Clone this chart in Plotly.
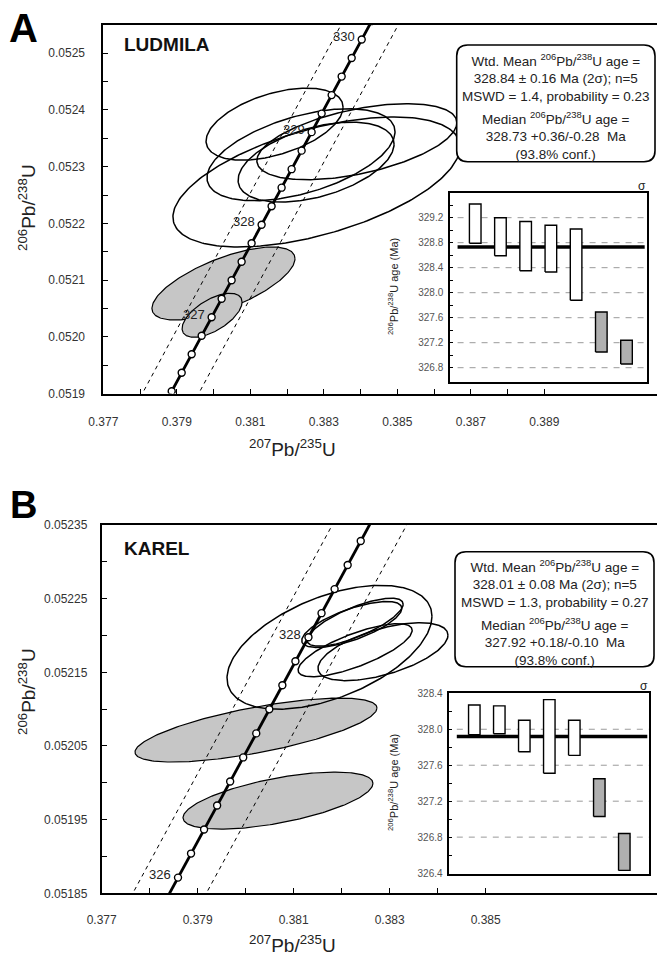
import numpy as np
import plotly.graph_objects as go

W, H = 657, 956
FONT = "Liberation Sans, Arial, Helvetica, sans-serif"

# ---------------- decay constants (per Ma) and 2-sigma relative errors ----------------
L238 = 1.55125e-4
L235 = 9.8485e-4
REL238_2S = 0.00107
REL235_2S = 0.00136

# ---------------- Panel A : LUDMILA ----------------
lud_x207 = [0.38166, 0.38238, 0.38279, 0.38390, 0.38280, 0.38027, 0.37996]
lud_y206 = [0.052375, 0.052321, 0.052308, 0.052344, 0.052273, 0.052094, 0.052038]
lud_sx = [0.001864, 0.002558, 0.002122, 0.002721, 0.003905, 0.001946, 0.000816]
lud_sy = [0.0000635, 0.0000811, 0.0000705, 0.0000670, 0.0001146, 0.0000644, 0.0000388]
lud_rho = [0.47, 0.50, 0.45, 0.50, 0.54, 0.68, 0.60]
lud_excluded = [False, False, False, False, False, True, True]

lud_age_hi = [329.42, 329.20, 329.14, 329.08, 329.02, 327.69, 327.24]
lud_age_lo = [328.79, 328.59, 328.35, 328.33, 327.88, 327.05, 326.86]
lud_median = 328.73

lud_xtick_labels = ["0.377", "0.379", "0.381", "0.383", "0.385", "0.387", "0.389"]
lud_ytick_labels = ["0.0519", "0.0520", "0.0521", "0.0522", "0.0523", "0.0524", "0.0525"]
lud_inset_ticks = ["326.8", "327.2", "327.6", "328.0", "328.4", "328.8", "329.2", "329.6"]
lud_conc_labels = [327, 328, 329, 330]

lud_box1 = "Wtd. Mean <sup>206</sup>Pb/<sup>238</sup>U age =<br>328.84 ± 0.16 Ma (2σ); n=5<br>MSWD = 1.4, probability = 0.23"
lud_box2 = "Median <sup>206</sup>Pb/<sup>238</sup>U age =<br>328.73 +0.36/-0.28\u00a0\u00a0Ma<br>(93.8% conf.)"

# ---------------- Panel B : KAREL ----------------
kar_x207 = [0.38221, 0.38228, 0.38228, 0.381746, 0.38286, 0.380215, 0.380673]
kar_y206 = [0.052215, 0.052218, 0.052180, 0.052184, 0.052178, 0.0520716, 0.0519759]
kar_sx = [0.001042, 0.001000, 0.001188, 0.002135, 0.001354, 0.002521, 0.001979]
kar_sy = [0.0000312, 0.0000326, 0.0000360, 0.0000841, 0.0000393, 0.0000434, 0.0000387]
kar_rho = [0.70, 0.75, 0.75, 0.50, 0.57, 0.69, 0.60]
kar_excluded = [False, False, False, False, False, True, True]

kar_age_hi = [328.27, 328.26, 328.10, 328.33, 328.10, 327.45, 326.84]
kar_age_lo = [327.94, 327.95, 327.75, 327.51, 327.71, 327.03, 326.43]
kar_median = 327.92

kar_xtick_labels = ["0.377", "0.379", "0.381", "0.383", "0.385"]
kar_ytick_labels = ["0.05185", "0.05195", "0.05205", "0.05215", "0.05225", "0.05235"]
kar_inset_ticks = ["326.4", "326.8", "327.2", "327.6", "328.0", "328.4"]
kar_conc_labels = [326, 328]

kar_box1 = "Wtd. Mean <sup>206</sup>Pb/<sup>238</sup>U age =<br>328.01 ± 0.08 Ma (2σ); n=5<br>MSWD = 1.3, probability = 0.27"
kar_box2 = "Median <sup>206</sup>Pb/<sup>238</sup>U age =<br>327.92 +0.18/-0.10\u00a0\u00a0Ma<br>(93.8% conf.)"


# ---------------- helpers ----------------
def PX(px):
    return px / W


def PY(py):
    return 1 - py / H


def ratios(t):
    return np.exp(L235 * t) - 1, np.exp(L238 * t) - 1


def ellipse(cx, cy, a, b, rho, n=240):
    th = np.linspace(0, 2 * np.pi, n)
    x = cx + a * np.cos(th)
    y = cy + b * (rho * np.cos(th) + np.sqrt(1 - rho ** 2) * np.sin(th))
    return x, y


fig = go.Figure()


def add_panel(xa, ya, xs, ys, sxs, sys_, rhos, excl, t_lo, t_hi):
    for i in range(len(xs)):
        if excl[i]:
            ex, ey = ellipse(xs[i], ys[i], sxs[i], sys_[i], rhos[i])
            fig.add_trace(go.Scatter(x=ex, y=ey, mode="lines", fill="toself",
                                     fillcolor="#c6c6c6", line=dict(color="black", width=1.2),
                                     xaxis=xa, yaxis=ya, hoverinfo="skip"))
    for i in range(len(xs)):
        if not excl[i]:
            ex, ey = ellipse(xs[i], ys[i], sxs[i], sys_[i], rhos[i])
            fig.add_trace(go.Scatter(x=ex, y=ey, mode="lines",
                                     line=dict(color="black", width=1.5),
                                     xaxis=xa, yaxis=ya, hoverinfo="skip"))
    t = np.linspace(t_lo, t_hi, 400)
    cx_, cy_ = ratios(t)
    sx = (1 + cx_) * L235 * t * REL235_2S
    sy = (1 + cy_) * L238 * t * REL238_2S
    m = ((1 + cy_) * L238) / ((1 + cx_) * L235)
    w = np.sqrt(sx ** 2 + (sy / m) ** 2)
    for sgn in (-1, 1):
        fig.add_trace(go.Scatter(x=cx_ + sgn * w, y=cy_, mode="lines",
                                 line=dict(color="black", width=1, dash="4px,4px"),
                                 xaxis=xa, yaxis=ya, hoverinfo="skip"))
    fig.add_trace(go.Scatter(x=cx_, y=cy_, mode="lines", line=dict(color="black", width=2.8),
                             xaxis=xa, yaxis=ya, hoverinfo="skip"))
    tm = np.round(np.arange(t_lo, t_hi + 1e-9, 0.2), 1)
    mx, my = ratios(tm)
    fig.add_trace(go.Scatter(x=mx, y=my, mode="markers",
                             marker=dict(size=7, color="white", line=dict(color="black", width=1.4)),
                             xaxis=xa, yaxis=ya, hoverinfo="skip"))


def add_inset(xa, ya, lo, hi, med, xmax):
    fig.add_trace(go.Scatter(x=[0.3, xmax - 0.08], y=[med, med], mode="lines",
                             line=dict(color="black", width=3.5), xaxis=xa, yaxis=ya, hoverinfo="skip"))
    hw = 0.23
    for i in range(len(lo)):
        xi = i + 1
        col = "#b0b0b0" if i >= 5 else "white"
        fig.add_trace(go.Scatter(x=[xi - hw, xi + hw, xi + hw, xi - hw, xi - hw],
                                 y=[lo[i], lo[i], hi[i], hi[i], lo[i]], mode="lines",
                                 fill="toself", fillcolor=col,
                                 line=dict(color="black", width=1.4),
                                 xaxis=xa, yaxis=ya, hoverinfo="skip"))


add_panel("x", "y", lud_x207, lud_y206, lud_sx, lud_sy, lud_rho, lud_excluded, 325.6, 331.0)
add_panel("x3", "y3", kar_x207, kar_y206, kar_sx, kar_sy, kar_rho, kar_excluded, 325.6, 329.4)
add_inset("x2", "y2", lud_age_lo, lud_age_hi, lud_median, 7.8)
add_inset("x4", "y4", kar_age_lo, kar_age_hi, kar_median, 8.0)


def ticks_with_minor(labels, step_minor):
    vals = [float(s) for s in labels]
    allv, txt = [], []
    for i, v in enumerate(vals):
        allv.append(v)
        txt.append(labels[i])
        if i < len(vals) - 1:
            allv.append(round(v + step_minor, 6))
            txt.append("")
    return allv, txt


tickfont = dict(family=FONT, size=12, color="#333")


def main_x(dom, rng, labels, standoff, anchor):
    v, t = ticks_with_minor(labels, 0.001)
    return dict(domain=dom, range=rng, tickvals=v, ticktext=t, ticks="inside", ticklen=5,
                tickwidth=1.2, tickcolor="black", showline=True, linecolor="black", linewidth=1.8,
                mirror=True, showgrid=False, zeroline=False, tickfont=tickfont,
                ticklabelstandoff=standoff, anchor=anchor, automargin=False)


def main_y(dom, rng, labels, step, standoff, anchor):
    v, t = ticks_with_minor(labels, step)
    return dict(domain=dom, range=rng, tickvals=v, ticktext=t, ticks="inside", ticklen=5,
                tickwidth=1.2, tickcolor="black", showline=True, linecolor="black", linewidth=1.8,
                showgrid=False, zeroline=False, tickfont=tickfont, ticklabelstandoff=standoff,
                anchor=anchor, automargin=False)


def inset_y(dom, rng, labels, anchor):
    v, t = ticks_with_minor(labels, 0.2)
    return dict(domain=dom, range=rng, tickvals=v, ticktext=t, ticks="inside", ticklen=3,
                tickcolor="black", showline=True, linecolor="black", linewidth=1.5, mirror=True,
                showgrid=False, zeroline=False, anchor=anchor, automargin=False,
                tickfont=dict(family=FONT, size=10, color="#555"), ticklabelstandoff=3)


def inset_x(dom, rng, anchor):
    return dict(domain=dom, range=rng, showticklabels=False, ticks="", showline=True,
                linecolor="black", linewidth=1.5, mirror=True, showgrid=False, zeroline=False,
                anchor=anchor, automargin=False)


fig.update_layout(
    width=W, height=H, margin=dict(l=0, r=0, t=0, b=0, autoexpand=False),
    paper_bgcolor="white", plot_bgcolor="white", showlegend=False,
    font=dict(family=FONT, color="#222"),
    xaxis=main_x([PX(103.3), 1.0], [0.377, 0.392067], lud_xtick_labels, 16, "y"),
    yaxis=main_y([PY(393.5), PY(24.9)], [0.0519, 0.05255], lud_ytick_labels, 0.00005, 14, "x"),
    xaxis2=inset_x([PX(450), PX(646.7)], [0, 7.8], "y2"),
    yaxis2=inset_y([PY(381.7), PY(193.3)], [326.576, 329.59], lud_inset_ticks, "x2"),
    xaxis3=main_x([PX(101.7), 1.0], [0.377, 0.388569], kar_xtick_labels, 14, "y3"),
    yaxis3=main_y([PY(893.3), PY(525)], [0.05185, 0.05235], kar_ytick_labels, 0.00005, 10, "x3"),
    xaxis4=inset_x([PX(449.3), PX(649.3)], [0, 8.0], "y4"),
    yaxis4=inset_y([PY(874), PY(693.3)], [326.39, 328.4], kar_inset_ticks, "x4"),
)

for xa, ya, labels, rng in (("x2", "y2", lud_inset_ticks[:-1], 7.8), ("x4", "y4", kar_inset_ticks[1:-1], 8.0)):
    for s in labels:
        fig.add_shape(type="line", xref=xa, yref=ya, x0=0.3, x1=rng, y0=float(s), y1=float(s),
                      line=dict(color="#9a9a9a", width=1, dash="6px,6px"), layer="below")


def rounded_box(x0, y0, x1, y1, r=11):
    rx, ry = r / W, r / H
    X0, X1, Y0, Y1 = PX(x0), PX(x1), PY(y0), PY(y1)
    p = (f"M {X0+rx},{Y0} L {X1-rx},{Y0} Q {X1},{Y0} {X1},{Y0-ry} "
         f"L {X1},{Y1+ry} Q {X1},{Y1} {X1-rx},{Y1} L {X0+rx},{Y1} Q {X0},{Y1} {X0},{Y1+ry} "
         f"L {X0},{Y0-ry} Q {X0},{Y0} {X0+rx},{Y0} Z")
    fig.add_shape(type="path", path=p, xref="paper", yref="paper", fillcolor="white",
                  line=dict(color="black", width=1.6), layer="above")


rounded_box(456.7, 45, 655, 161.7)
rounded_box(455, 551.7, 654, 666.7)

ann = []


def A(x, y, text, size, **kw):
    d = dict(x=PX(x), y=PY(y), xref="paper", yref="paper", text=text, showarrow=False,
             xanchor="center", yanchor="middle",
             font=dict(family=FONT, size=size, color=kw.pop("color", "#222")))
    d.update(kw)
    ann.append(d)


A(556, 77.5, lud_box1, 13.5)
A(556, 135.5, lud_box2, 13.5)
A(554.5, 583.5, kar_box1, 13.5)
A(554.5, 641.7, kar_box2, 13.5)

A(23, 28, "<b>A</b>", 40, color="black")
A(23, 505, "<b>B</b>", 38, color="black")
A(122, 44.5, "<b>LUDMILA</b>", 19, color="#111", xanchor="left")
A(122, 548.5, "<b>KAREL</b>", 19, color="#111", xanchor="left")

A(27, 208, "<sup>206</sup>Pb/<sup>238</sup>U", 19, textangle=-90)
A(27, 692, "<sup>206</sup>Pb/<sup>238</sup>U", 19, textangle=-90)
A(292, 448, "<sup>207</sup>Pb/<sup>235</sup>U", 19)
A(292, 944, "<sup>207</sup>Pb/<sup>235</sup>U", 19)

A(393, 287, "<sup>206</sup>Pb/<sup>238</sup>U age (Ma)", 11, textangle=-90)
A(393, 783, "<sup>206</sup>Pb/<sup>238</sup>U age (Ma)", 11, textangle=-90)
A(642, 186, "σ", 12)
A(644, 686, "σ", 12)

for xa, ya, ages in (("x", "y", lud_conc_labels), ("x3", "y3", kar_conc_labels)):
    for t in ages:
        cx_, cy_ = ratios(float(t))
        ann.append(dict(x=float(cx_), y=float(cy_), xref=xa, yref=ya, text=str(t), showarrow=False,
                        xanchor="right", yanchor="middle", xshift=-5, yshift=3,
                        font=dict(family=FONT, size=13, color="#222")))

fig.update_layout(annotations=ann)
fig.write_html("out.html", config={"displayModeBar": False},
               post_script="document.body.style.margin='0px';document.body.style.overflow='hidden';")
